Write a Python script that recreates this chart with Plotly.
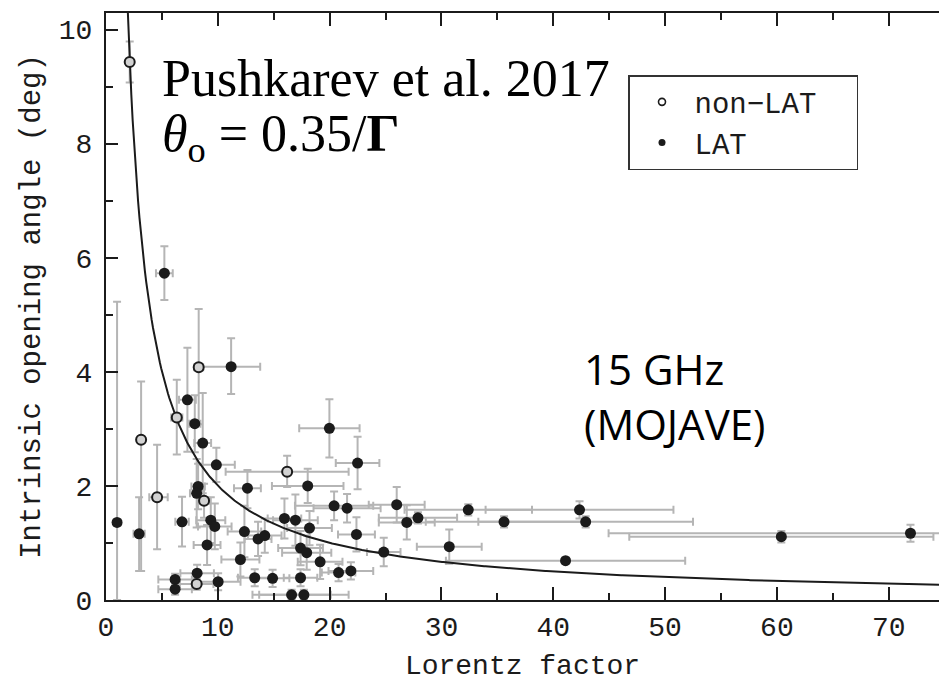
import numpy as np
import plotly.graph_objects as go

# LAT-detected sources: Lorentz factor, intrinsic opening angle (deg) and their errors
lat_gamma = [0.99, 2.96, 5.22, 7.28, 7.94, 8.65, 9.87, 11.19, 12.65, 8.24, 8.11, 6.80,
             9.37, 9.73, 12.38, 9.04, 13.6, 14.2, 15.96, 16.94, 12.02, 17.4, 17.95,
             6.18, 6.18, 8.15, 10.03, 13.3, 14.9, 16.6, 17.7, 19.98, 22.5, 18.04,
             20.4, 21.56, 26.0, 26.9, 27.9, 18.2, 22.4, 19.15, 24.84, 20.8, 21.9,
             17.4, 32.4, 35.6, 42.9, 42.35, 30.7, 41.1, 60.4, 71.95]
lat_theta = [1.36, 1.16, 5.73, 3.51, 3.09, 2.75, 2.37, 4.09, 1.96, 1.99, 1.87, 1.37,
             1.40, 1.29, 1.20, 0.965, 1.07, 1.13, 1.43, 1.40, 0.71, 0.91, 0.83,
             0.36, 0.19, 0.47, 0.32, 0.39, 0.38, 0.09, 0.09, 3.01, 2.40, 2.00,
             1.65, 1.61, 1.67, 1.36, 1.44, 1.26, 1.15, 0.67, 0.84, 0.48, 0.51,
             0.39, 1.58, 1.37, 1.37, 1.58, 0.935, 0.69, 1.11, 1.17]
lat_gamma_err = [0.3, 0.5, 0.75, 0.75, 0.5, 0.75, 1.65, 2.6, 1.2, 0.6, 0.6, 0.6,
                 1.3, 1.5, 1.5, 1.2, 1.2, 1.5, 1.5, 2.0, 1.7, 2.0, 2.2,
                 1.5, 1.5, 1.5, 2.0, 1.5, 1.5, 3.5, 4.0, 2.7, 1.95, 3.2,
                 3.5, 3.0, 2.5, 2.5, 3.5, 2.0, 1.65, 2.0, 1.5, 1.5, 2.0,
                 1.5, 5.7, 7.0, 9.6, 8.4, 2.9, 10.7, 13.6, 27.0]
lat_theta_err_plus = [3.87, 0.64, 0.47, 0.91, 0.5, 0.88, 0.3, 0.5, 0.32, 0.4, 0.6, 0.44,
                      0.4, 0.4, 0.45, 0.35, 0.3, 0.3, 0.35, 0.45, 0.3, 0.3, 0.3,
                      0.1, 0.1, 0.15, 0.15, 0.15, 0.15, 0.09, 0.09, 0.51, 0.46, 0.3,
                      0.25, 0.25, 0.31, 0.3, 0.1, 0.3, 0.3, 0.3, 0.25, 0.15, 0.15,
                      0.15, 0.1, 0.1, 0.1, 0.15, 0.3, 0.05, 0.1, 0.15]
lat_theta_err_minus = [1.36, 0.65, 0.47, 0.91, 0.5, 0.88, 0.3, 0.48, 0.35, 0.4, 0.6, 0.43,
                       0.4, 0.4, 0.45, 0.35, 0.3, 0.3, 0.35, 0.45, 0.3, 0.3, 0.3,
                       0.1, 0.1, 0.15, 0.15, 0.15, 0.15, 0.09, 0.09, 0.51, 0.46, 0.3,
                       0.25, 0.25, 0.31, 0.3, 0.1, 0.3, 0.3, 0.3, 0.25, 0.15, 0.15,
                       0.15, 0.1, 0.1, 0.1, 0.15, 0.3, 0.05, 0.1, 0.15]

# non-LAT sources
nonlat_gamma = [2.12, 3.14, 4.57, 6.33, 8.29, 8.77, 8.11, 16.2]
nonlat_theta = [9.43, 2.81, 1.80, 3.20, 4.08, 1.74, 0.28, 2.25]
nonlat_gamma_err_plus = [0.2, 0.2, 0.95, 0.5, 0.4, 0.5, 1.5, 5.5]
nonlat_gamma_err_minus = [0.2, 0.2, 0.7, 0.5, 0.4, 0.5, 1.5, 5.5]
nonlat_theta_err_plus = [0.36, 1.02, 0.92, 0.66, 1.02, 0.3, 0.1, 0.28]
nonlat_theta_err_minus = [0.36, 2.30, 0.91, 0.65, 1.0, 0.3, 0.1, 0.27]

# Model relation theta_o = 0.35 / Gamma (radians), shown in degrees
model_const = 0.35
curve_gamma = np.linspace(1.9, 74.6, 600)
curve_theta = np.degrees(model_const / curve_gamma)

X_RANGE = [0, 74.5]
Y_RANGE = [0, 10.29]

W, H = 939, 683
ML, MR, MT, MB = 106, 0, 13, 83
PW, PH = W - ML - MR, H - MT - MB


def px(xp):
    return (xp - ML) / PW


def py(yp):
    return (H - MB - yp) / PH


ERR_COLOR = "#b5b5b5"
INK = "#1b1b1b"
MONO = "Liberation Mono"

fig = go.Figure()

# error bars first, so every marker sits on top of them
fig.add_trace(go.Scatter(
    x=lat_gamma, y=lat_theta, mode="markers",
    marker=dict(size=1, opacity=0), showlegend=False, hoverinfo="skip",
    error_x=dict(type="data", array=lat_gamma_err, symmetric=True,
                 color=ERR_COLOR, thickness=2, width=4),
    error_y=dict(type="data", array=lat_theta_err_plus, arrayminus=lat_theta_err_minus,
                 symmetric=False, color=ERR_COLOR, thickness=2, width=4),
))
fig.add_trace(go.Scatter(
    x=nonlat_gamma, y=nonlat_theta, mode="markers",
    marker=dict(size=1, opacity=0), showlegend=False, hoverinfo="skip",
    error_x=dict(type="data", array=nonlat_gamma_err_plus, arrayminus=nonlat_gamma_err_minus,
                 symmetric=False, color=ERR_COLOR, thickness=2, width=4),
    error_y=dict(type="data", array=nonlat_theta_err_plus, arrayminus=nonlat_theta_err_minus,
                 symmetric=False, color=ERR_COLOR, thickness=2, width=4),
))

fig.add_trace(go.Scatter(
    x=curve_gamma, y=curve_theta, mode="lines",
    line=dict(color=INK, width=2), showlegend=False, hoverinfo="skip",
))

fig.add_trace(go.Scatter(
    x=lat_gamma, y=lat_theta, mode="markers", showlegend=False,
    marker=dict(size=11, color=INK, line=dict(width=0)),
))
fig.add_trace(go.Scatter(
    x=nonlat_gamma, y=nonlat_theta, mode="markers", showlegend=False,
    marker=dict(size=10, color="#d2d2d2", line=dict(width=2, color=INK)),
))

# legend entries (trailing no-break spaces pad the legend box on the right)
fig.add_trace(go.Scatter(
    x=[None], y=[None], mode="markers", name="non\u2212LAT\u00a0\u00a0",
    marker=dict(size=7, color="white", line=dict(width=1.6, color=INK)),
))
fig.add_trace(go.Scatter(
    x=[None], y=[None], mode="markers", name="LAT",
    marker=dict(size=7, color=INK),
))

axis_common = dict(
    showgrid=False, zeroline=False, showline=True, linecolor=INK, linewidth=2,
    ticks="inside", tickcolor=INK, tickwidth=1.5,
    tickfont=dict(family=MONO, size=28, color=INK),
)

fig.update_xaxes(
    range=X_RANGE, dtick=10, tick0=0, ticklen=13, mirror="ticks",
    minor=dict(dtick=5, ticks="inside", ticklen=7, tickcolor=INK, tickwidth=1.5),
    title=dict(text="Lorentz factor", font=dict(family=MONO, size=28, color=INK), standoff=12),
    **axis_common,
)
fig.update_yaxes(
    range=Y_RANGE, dtick=2, tick0=0, ticklen=12,
    minor=dict(dtick=1, ticks="inside", ticklen=7, tickcolor=INK, tickwidth=1.5),
    title=dict(text="Intrinsic opening angle (deg)", font=dict(family=MONO, size=29, color=INK),
               standoff=10),
    ticklabelstandoff=6,
    **axis_common,
)

fig.add_annotation(
    x=px(160), y=py(79), xref="paper", yref="paper", xanchor="left", yanchor="middle",
    text="Pushkarev et al. 2017", showarrow=False,
    font=dict(family="Liberation Serif", size=52, color="black"),
)
fig.add_annotation(
    x=px(160), y=py(137), xref="paper", yref="paper", xanchor="left", yanchor="middle",
    text="<i>\u03b8</i><sub>o</sub> = 0.35/<b>\u0393</b>", showarrow=False,
    font=dict(family="Liberation Serif", size=52, color="black"),
)
fig.add_annotation(
    x=px(582), y=py(338), xref="paper", yref="paper", xanchor="left", yanchor="top",
    text="15 GHz<br>(MOJAVE)", showarrow=False, align="left",
    font=dict(family="Open Sans", size=42, color="black"),
)

fig.update_layout(
    width=W, height=H,
    margin=dict(l=ML, r=MR, t=MT, b=MB),
    paper_bgcolor="white", plot_bgcolor="white",
    legend=dict(
        x=px(628), y=py(75), xanchor="left", yanchor="top",
        bordercolor="#333333", borderwidth=1.5, bgcolor="white",
        font=dict(family=MONO, size=29, color=INK),
        itemwidth=55,
    ),
)

fig.write_html("out.html")
